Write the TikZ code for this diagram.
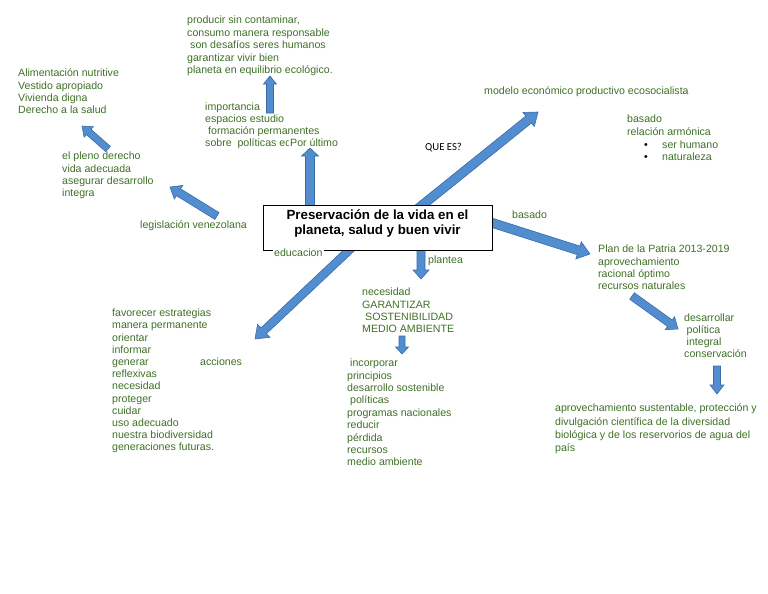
\documentclass[tikz,border=0pt]{standalone}
\usepackage{fontspec}
\setmainfont{Liberation Sans}
\newfontfamily\calibrifont{Carlito}
\usetikzlibrary{calc,shadows}
\definecolor{txtgreen}{RGB}{62,112,38}
\definecolor{arrfill}{RGB}{82,142,207}
\definecolor{arrline}{RGB}{58,108,168}
\newcommand\fs[1]{\fontsize{10.6}{#1}\selectfont}
\newcommand\tl{\rule{0pt}{11pt}}
% tail, tip, half shaft, half head, head length
\newcommand\barrow[5]{%
 \draw[arrowbody]
  ($(#1)!#3pt!90:(#2)$) --
  ($($(#2)!#5pt!(#1)$)!#3pt!-90:(#1)$) --
  ($($(#2)!#5pt!(#1)$)!#4pt!-90:(#1)$) --
  (#2) --
  ($($(#2)!#5pt!(#1)$)!#4pt!90:(#1)$) --
  ($($(#2)!#5pt!(#1)$)!#3pt!90:(#1)$) --
  ($(#1)!#3pt!-90:(#2)$) -- cycle;}
\tikzset{
 arrowbody/.style={fill=arrfill, draw=arrline, line width=0.6pt, line join=miter},
 gtxt/.style={anchor=north west, inner sep=0pt, align=left, text=txtgreen},
 gword/.style={anchor=base west, inner sep=0pt, text=txtgreen, font=\fs{12.3}},
 mainbox/.style={draw=black, line width=0.9pt, fill=white, minimum width=229pt, minimum height=45pt,
   general shadow={fill=black, shadow xshift=1.4pt, shadow yshift=-1.4pt}},
 title/.style={inner sep=0pt, align=center, font=\bfseries\fontsize{13.3}{15}\selectfont}
}
\begin{document}
\begin{tikzpicture}[x=1pt, y=-1pt]
\useasboundingbox (0,0) rectangle (768,594);
% arrow end points
\coordinate (a1t) at (310,212); \coordinate (a1h) at (310,148);
\coordinate (a2t) at (270,113); \coordinate (a2h) at (270,76);
\coordinate (a3t) at (217,216); \coordinate (a3h) at (170,187);
\coordinate (a4t) at (108,149); \coordinate (a4h) at (82,126);
\coordinate (a5t) at (410,215); \coordinate (a5h) at (538,112);
\coordinate (a6t) at (480,219); \coordinate (a6h) at (590,254);
\coordinate (a7t) at (421,245); \coordinate (a7h) at (421,279);
\coordinate (a8t) at (360,240); \coordinate (a8h) at (255,339);
\coordinate (a9t) at (402,336); \coordinate (a9h) at (402,354);
\coordinate (a10t) at (632,296); \coordinate (a10h) at (678,329);
\coordinate (a11t) at (717,366); \coordinate (a11h) at (717,394);
% arrows
\barrow{a1t}{a1h}{4.5}{8.5}{8}
\barrow{a2t}{a2h}{3.5}{6.5}{8}
\barrow{a3t}{a3h}{4}{8}{10}
\barrow{a4t}{a4h}{3.5}{7}{9}
\barrow{a5t}{a5h}{4.5}{9}{12}
\barrow{a6t}{a6h}{4.5}{9}{12}
\barrow{a7t}{a7h}{4}{8}{9}
\barrow{a8t}{a8h}{4}{9}{12}
\barrow{a9t}{a9h}{3}{6.5}{7}
\barrow{a10t}{a10h}{4}{8}{10}
\barrow{a11t}{a11h}{3.5}{7}{9}
% central box
\node[mainbox] (main) at (377.5,227.5) {};
\node[title] (maintitle) at (377.5,223) {\rule{0pt}{13pt}Preservación de la vida en el\\planeta, salud y buen vivir\rule[-6pt]{0pt}{6pt}};
% text blocks
\node[gtxt, font=\fs{12.5}] (ptop) at (187,12.5) {\tl producir sin contaminar,\\consumo manera responsable\\\hspace*{3pt}son desafíos seres humanos\\garantizar vivir bien\\planeta en equilibrio ecológico.};
\node[gtxt, font=\fs{12.3}] (palim) at (18,65.5) {\tl Alimentación nutritive\\Vestido apropiado\\Vivienda digna\\Derecho a la salud};
\node[gtxt, font=\fs{12.3}] (ppleno) at (62,148.5) {\tl el pleno derecho\\vida adecuada\\asegurar desarrollo\\integra};
\node[gword] (plegis) at (140,228.5) {legislación venezolana};
\node[gtxt, font=\fs{12}] (pimport) at (205,99.5) {\tl importancia\\espacios estudio\\\hspace*{3pt}formación permanentes\\sobre\ \ políticas ed};
\node[gword, fill=white, inner sep=1pt] (pultimo) at (289,146.5) {Por último};
\node[gword] (pmodelo) at (484,94) {modelo económico productivo ecosocialista};
\node[gtxt, font=\fs{12.7}] (pbasado2) at (627,111.5) {\tl basado\\relación armónica\\\hspace*{17pt}\makebox[18pt][l]{\textcolor{black}{\textbullet}}ser humano\\\hspace*{17pt}\makebox[18pt][l]{\textcolor{black}{\textbullet}}naturaleza};
\node[anchor=base west, inner sep=0pt, font=\calibrifont\fontsize{10.7}{12}\selectfont] (pquees) at (425,150.5) {QUE ES?};
\node[gword] (pbasado) at (512,218.5) {basado};
\node[gword, fill=white, inner sep=1pt] (peduc) at (273,256.5) {educacion};
\node[gword] (pplantea) at (428,263.5) {plantea};
\node[gtxt, font=\fs{12.3}] (pneces) at (362,284.5) {\tl necesidad\\GARANTIZAR\\\hspace*{3pt}SOSTENIBILIDAD\\MEDIO AMBIENTE};
\node[gtxt, font=\fs{12.2}] (pfavor) at (112,305.5) {\tl favorecer estrategias\\manera permanente\\orientar\\informar\\generar\\reflexivas\\necesidad\\proteger\\cuidar\\uso adecuado\\nuestra biodiversidad\\generaciones futuras.};
\node[gword] (pacciones) at (200,365.3) {acciones};
\node[gtxt, font=\fs{12.4}] (pincorp) at (347,355.5) {\tl\hspace*{3pt}incorporar\\principios\\desarrollo sostenible\\\hspace*{3pt}políticas\\programas nacionales\\reducir\\pérdida\\recursos\\medio ambiente};
\node[gtxt, font=\fs{12.3}] (pplan) at (598,241.5) {\tl Plan de la Patria 2013-2019\\aprovechamiento\\racional óptimo\\recursos naturales};
\node[gtxt, font=\fs{12}] (pdesarr) at (684,310.5) {\tl desarrollar\\\hspace*{2.5pt}política\\\hspace*{2.5pt}integral\\conservación};
\node[gtxt, font=\fs{13.3}] (pfinal) at (555,400.5) {\tl aprovechamiento sustentable, protección y\\divulgación científica de la diversidad\\biológica y de los reservorios de agua del\\país};
\end{tikzpicture}
\end{document}
